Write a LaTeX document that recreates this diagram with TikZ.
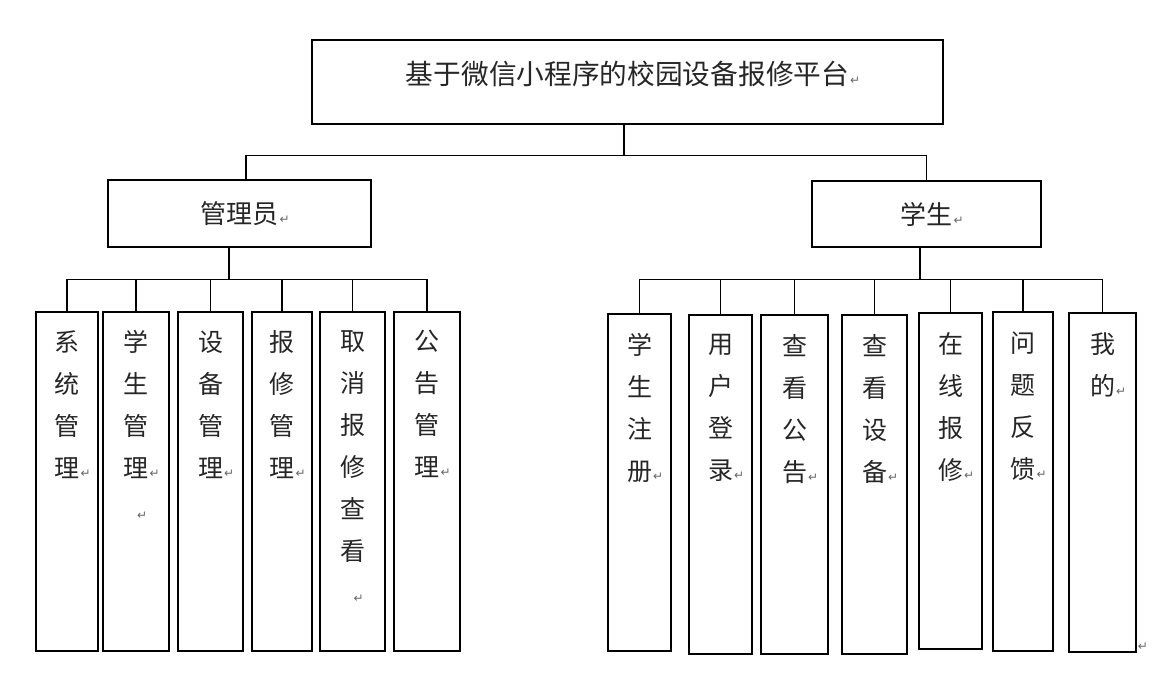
\documentclass[tikz,border=0pt]{standalone}
\usepackage{fontspec}
\setmainfont{Noto Sans CJK SC}
\newfontfamily\markfont{DejaVu Sans}
\newcommand{\pmark}{\rlap{\hspace{1pt}\markfont\fontsize{12}{12}\selectfont\color{black!60}↵}}
\tikzset{
  box/.style={draw, line width=1.5pt, inner sep=0pt},
  link/.style={line width=1.2pt},
  stem/.style={line width=2.3pt},
  vtext/.style={anchor=north, inner sep=0pt, align=center, text=black!85, font=\fontsize{25}{42}\selectfont},
  htext/.style={text=black!85, font=\fontsize{26}{30}\selectfont},
}

\begin{document}
\begin{tikzpicture}[x=1pt, y=-1pt]
            \useasboundingbox (0,0) rectangle (1160,674);

            \node[box, minimum width=631pt, minimum height=84pt] (top) at (627.5,82) {};
            \node[htext, font=\fontsize{27.7}{30}\selectfont] (toptext) at (627.5,73.5) {基于微信小程序的校园设备报修平台\pmark};

            \node[box, htext, minimum width=263pt, minimum height=67pt] (admin) at (239.5,213.5) {管理员\pmark};
            \node[box, htext, minimum width=229pt, minimum height=66pt] (student) at (926.5,214) {学生\pmark};

            \foreach \id/\x/\w/\txt in {a1/67/62/{系\\统\\管\\理\pmark}, a2/136/66/{学\\生\\管\\理\pmark\\\pmark}, a3/210.5/65/{设\\备\\管\\理\pmark}, a4/282/60/{报\\修\\管\\理\pmark}, a5/352.5/65/{取\\消\\报\\修\\查\\看\\\pmark}, a6/427/66/{公\\告\\管\\理\pmark}} {
                \node[box, minimum width=\w pt, minimum height=339pt] (\id) at (\x,481.5) {};
                \node[vtext] (\id-t) at ([yshift=-19pt]\id.north) {\txt};
            }

            \foreach \id/\x/\y/\w/\h/\txt in {s1/639.5/482.5/63/337/{学\\生\\注\\册\pmark}, s2/720.5/484.5/63/339/{用\\户\\登\\录\pmark}, s3/794.5/484.5/67/339/{查\\看\\公\\告\pmark}, s4/874.5/484.5/65/339/{查\\看\\设\\备\pmark}, s5/950.5/481/63/336/{在\\线\\报\\修\pmark}, s6/1023/481.5/60/339/{问\\题\\反\\馈\pmark}, s7/1102.5/482.5/67/339/{我\\的\pmark}} {
                \node[box, minimum width=\w pt, minimum height=\h pt] (\id) at (\x,\y) {};
                \node[vtext] (\id-t) at ([yshift=-20pt]\id.north) {\txt};
            }
            \node[inner sep=0pt] (endmark) at (1143,647) {\markfont\fontsize{12}{12}\selectfont\color{black!60}↵};

            \coordinate (hub) at ([xshift=-3.5pt, yshift=-31pt]top.south);
            \draw[link] ([xshift=-3.5pt]top.south) -- (hub);
            \draw[link] ([xshift=6.5pt]admin.north) |- (hub) -| (student.north);

            \coordinate (abus) at ([xshift=-10.5pt, yshift=-32pt]admin.south);
            \draw[stem] ([xshift=-10.5pt]admin.south) -- (abus);
            \foreach \i in {1,...,6} {
                \draw[link] (a\i.north) |- (abus);
            }

            \coordinate (sbus) at ([xshift=-6.5pt, yshift=-32pt]student.south);
            \draw[stem] ([xshift=-6.5pt]student.south) -- (sbus);
            \foreach \i in {1,...,7} {
                \draw[link] (s\i.north) |- (sbus);
            }
        \end{tikzpicture}
\end{document}
